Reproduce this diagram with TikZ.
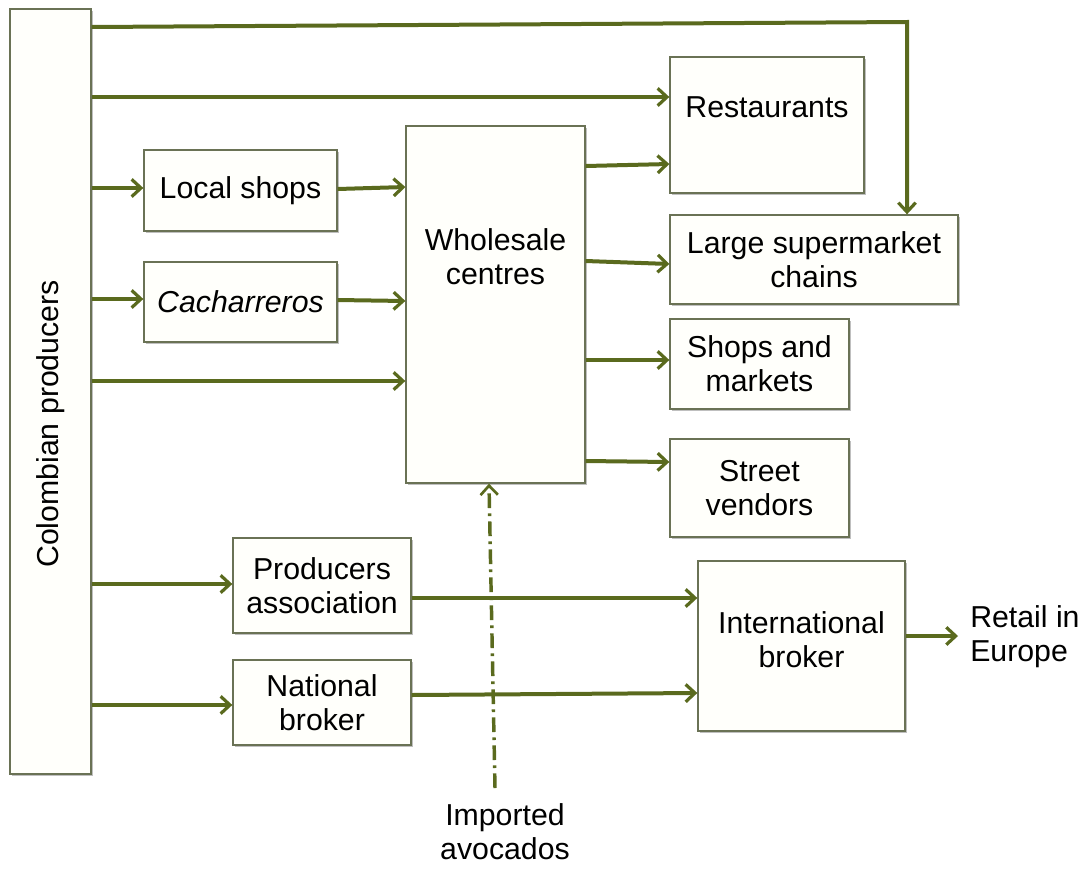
\documentclass[tikz,border=0pt]{standalone}
\usepackage{fontspec}
\setmainfont{Liberation Sans}
\usetikzlibrary{arrows.meta,shadows}
\definecolor{olv}{HTML}{5A6A1E}
\definecolor{bord}{HTML}{6A7255}
\definecolor{cream}{HTML}{FFFFFB}
\begin{document}
\begin{tikzpicture}[x=0.75pt,y=-0.75pt,
  font=\fontsize{22.7}{25.5}\selectfont,
  box/.style={draw=bord,line width=1pt,fill=cream,inner sep=0pt,align=center,
    drop shadow={shadow xshift=1.2pt,shadow yshift=-1.2pt,opacity=0.25,fill=black}},
  arr/.style={draw=olv,line width=3pt,-{Straight Barb[length=7pt,width=13pt,line width=2.4pt]}},
  txt/.style={align=center,inner sep=0pt}]
\useasboundingbox (0,0) rectangle (1085,868);

% boxes
\node[box,minimum width=60.75pt,minimum height=573.75pt] (prod) at (50.5,391.5) {};
\node[txt,rotate=90] (prodt) at (50.5,424) {Colombian producers};
\node[box,minimum width=144.75pt,minimum height=60.75pt] (local) at (240.5,190.5) {Local shops};
\node[box,minimum width=144.75pt,minimum height=60pt] (cach) at (240.5,302) {\itshape Cacharreros};
\node[box,minimum width=134.25pt,minimum height=267.75pt] (whole) at (495.5,304.5) {};
\node[txt] (wholet) at (495.5,257) {Wholesale\\centres};
\node[box,minimum width=145.5pt,minimum height=102pt] (rest) at (767,125) {};
\node[txt] (restt) at (767,107) {Restaurants};
\node[box,minimum width=216pt,minimum height=66.75pt] (super) at (814,259.5) {Large supermarket\\chains};
\node[box,minimum width=134.25pt,minimum height=67.5pt] (shops) at (759.5,364) {Shops and\\markets};
\node[box,minimum width=134.25pt,minimum height=73.5pt] (street) at (759.5,488) {Street\\vendors};
\node[box,minimum width=133.5pt,minimum height=71.25pt] (passoc) at (322,585.5) {Producers\\association};
\node[box,minimum width=133.5pt,minimum height=63.75pt] (nbroker) at (322,702.5) {National\\broker};
\node[box,minimum width=155.25pt,minimum height=127.5pt] (ibroker) at (801.5,646) {};
\node[txt] (ibrokert) at (801.5,640) {International\\broker};
\node[txt,align=left,anchor=west] (retail) at (970,637) {Retail in\\Europe};
\node[txt] (imported) at (505,832) {Imported\\avocados};

% connectors from producers
\draw[arr] (prod.east |- 0,27) -- (907,22) -- (super.north -| 907,0);
\draw[arr] (prod.east |- 0,97) -- (rest.west |- 0,97);
\draw[arr] (prod.east |- 0,188) -- (local.west |- 0,188);
\draw[arr] (prod.east |- 0,299) -- (cach.west |- 0,299);
\draw[arr] (prod.east |- 0,381) -- (whole.west |- 0,381);
\draw[arr] (prod.east |- 0,584) -- (passoc.west |- 0,584);
\draw[arr] (prod.east |- 0,705) -- (nbroker.west |- 0,705);

% to wholesale
\draw[arr] (local.east |- 0,189) -- (whole.west |- 0,187);
\draw[arr] (cach.east |- 0,300) -- (whole.west |- 0,301);

% from wholesale
\draw[arr] (whole.east |- 0,166) -- (rest.west |- 0,164);
\draw[arr] (whole.east |- 0,261) -- (super.west |- 0,264);
\draw[arr] (whole.east |- 0,360) -- (shops.west |- 0,360);
\draw[arr] (whole.east |- 0,461) -- (street.west |- 0,462);

% to international broker
\draw[arr] (passoc.east |- 0,598) -- (ibroker.west |- 0,598);
\draw[arr] (nbroker.east |- 0,695) -- (ibroker.west |- 0,693);
\draw[arr,shorten >=9pt] (ibroker.east |- 0,636) -- (retail.west |- 0,636);

% imported avocados
\coordinate (impstart) at (495,788);
\draw[draw=olv,line width=2.6pt,dash pattern=on 11pt off 4pt on 2pt off 4pt,
  -{Straight Barb[length=7pt,width=13pt,line width=2pt]}] (impstart) -- (whole.south -| 489,0);
\end{tikzpicture}
\end{document}
